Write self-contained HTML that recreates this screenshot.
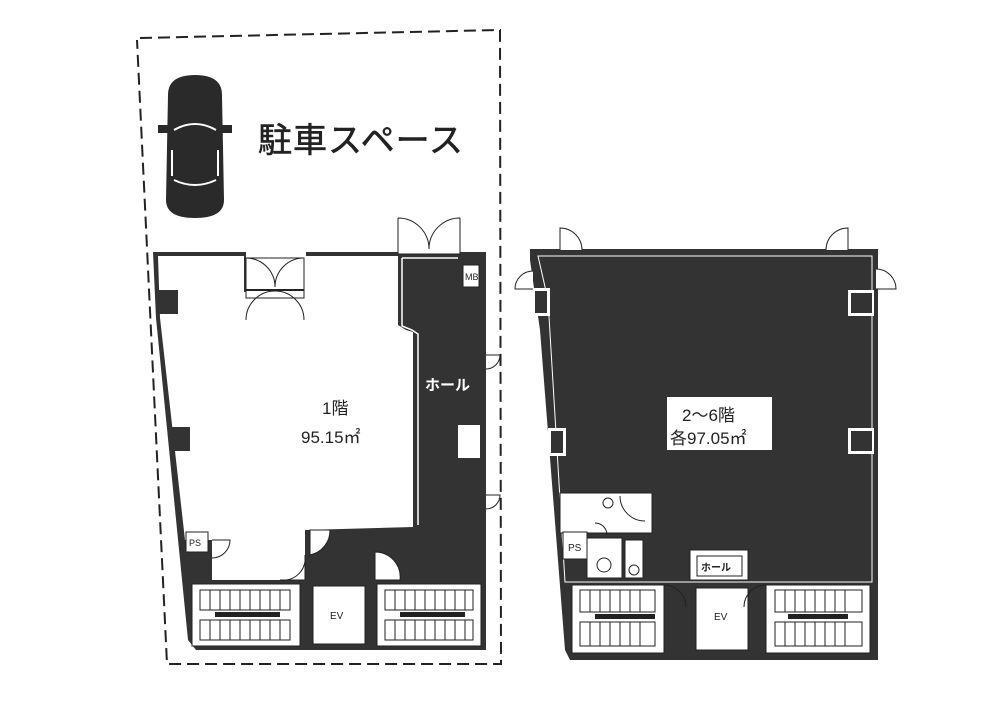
<!DOCTYPE html>
<html><head><meta charset="utf-8"><style>
html,body{margin:0;padding:0;background:#fff;}
svg{display:block}
text{font-family:"Liberation Sans","Noto Sans CJK JP",sans-serif;}
</style></head><body>
<svg width="1000" height="706" viewBox="0 0 1000 706" xmlns="http://www.w3.org/2000/svg">
<rect width="1000" height="706" fill="#fff"/>
<path d="M140,38 L500,30 L501,664 L167,664 L137,40" fill="none" stroke="#222" stroke-width="2" stroke-dasharray="12,6"/>
<g fill="#2a2a2a">
<path d="M168,95 Q168,75 195,75 Q222,75 222,95 L224,200 Q224,218 195,218 Q166,218 166,200 Z"/>
<rect x="158" y="125" width="10" height="8"/>
<rect x="222" y="125" width="10" height="8"/>
</g>
<path d="M174,130 Q195,118 216,130 M174,180 Q195,190 216,180 M172,150 L172,176 M218,150 L218,176" stroke="#fff" stroke-width="2" fill="none"/>
<text x="258" y="152" font-size="34" fill="#222" letter-spacing="1" stroke="#222" stroke-width="0.6">駐車スペース</text>

<path d="M153,252 L246,252 L246,258 L306,258 L306,252 L486,252 L486,650 L196,650 L188,640 L156,318 Z" fill="#333"/>
<path d="M158,256 L244,256 L244,292 L304,292 L304,256 L398,256 L398,325 L406,330 L413,332 L413,527 L305,530 L305,580 L212,580 L212,540 L185,540 L160,318 Z" fill="#fff"/>
<rect x="158" y="290" width="20" height="24" fill="#333"/>
<rect x="170" y="427" width="20" height="24" fill="#333"/>
<rect x="246" y="258" width="58" height="40" fill="#fff" stroke="#222"/>
<path d="M246,258 A29,29 0 0 1 275,287 M304,258 A29,29 0 0 0 275,287 M246,320 A29,29 0 0 1 275,291 M304,320 A29,29 0 0 0 275,291" fill="none" stroke="#222"/>
<line x1="246" y1="290" x2="304" y2="290" stroke="#222" stroke-width="2"/>
<rect x="398" y="218" width="62" height="36" fill="#fff"/>
<path d="M398,218 L398,254 L460,254 L460,218 M398,218 A31,31 0 0 1 429,249 M460,218 A31,31 0 0 0 429,249" fill="none" stroke="#222"/>
<path d="M402,258 L458,258 M402,258 L402,326 L412,330 L418,334 L418,525" fill="none" stroke="#fff" stroke-width="1.5"/>
<rect x="463" y="265" width="16" height="22" fill="#fff" stroke="#222"/>
<text x="465" y="280" font-size="9" fill="#222">MB</text>
<text x="425" y="390" font-size="15" font-weight="bold" fill="#fff">ホール</text>
<path d="M458,425 L480,425 L480,458 L458,458 Z" fill="#fff"/>
<path d="M486,355 L500,355 A14,14 0 0 1 486,369 M486,495 L500,495 A14,14 0 0 1 486,509" fill="#fff" stroke="#222"/>
<rect x="186" y="532" width="22" height="20" fill="#fff" stroke="#222"/>
<text x="189" y="546" font-size="9" fill="#222">PS</text>
<path d="M212,540 L230,540 A18,18 0 0 1 212,558" fill="none" stroke="#222"/>
<path d="M310,530 L330,530 A25,25 0 0 1 310,555 Z" fill="#fff" stroke="#222"/>
<path d="M305,580 L305,555 A22,22 0 0 1 280,580 Z" fill="#fff" stroke="#222"/>
<path d="M375,580 L375,552 A25,25 0 0 1 400,580 Z" fill="#fff" stroke="#222"/>
<g fill="#fff" stroke="#222">
<rect x="192" y="584" width="108" height="62"/>
<rect x="313" y="586" width="52" height="58"/>
<rect x="377" y="584" width="104" height="62"/>
</g>
<g stroke="#222" stroke-width="1">
<path d="M200,590 L290,590 L290,610 L200,610 Z M200,620 L290,620 L290,640 L200,640 Z" fill="none"/>
<path d="M210,590V610M220,590V610M230,590V610M240,590V610M250,590V610M260,590V610M270,590V610M280,590V610M210,620V640M220,620V640M230,620V640M240,620V640M250,620V640M260,620V640M270,620V640M280,620V640"/>
<path d="M385,590 L473,590 L473,610 L385,610 Z M385,620 L473,620 L473,640 L385,640 Z" fill="none"/>
<path d="M395,590V610M405,590V610M415,590V610M425,590V610M435,590V610M445,590V610M455,590V610M465,590V610M395,620V640M405,620V640M415,620V640M425,620V640M435,620V640M445,620V640M455,620V640M465,620V640"/>
</g>
<rect x="215" y="612" width="65" height="5" fill="#222"/>
<rect x="400" y="612" width="65" height="5" fill="#222"/>
<text x="330" y="619" font-size="10" fill="#222">EV</text>
<text x="322" y="414" font-size="17" fill="#222">1階</text>
<text x="301" y="443" font-size="17" fill="#222">95.15㎡</text>

<path d="M530,249 L878,249 L878,660 L570,660 L565,650 L540,330 L530,260 Z" fill="#333"/>
<path d="M538,256 L872,256 L872,582 L565,582 L548,300 Z" fill="none" stroke="#fff" stroke-width="1"/>
<g fill="#fff">
<rect x="532" y="288" width="18" height="28"/>
<rect x="548" y="428" width="18" height="28"/>
<rect x="848" y="290" width="26" height="26"/>
<rect x="848" y="428" width="26" height="26"/>
</g>
<g fill="#333"><rect x="535" y="291" width="12" height="22"/><rect x="551" y="431" width="12" height="22"/><rect x="851" y="293" width="21" height="20"/><rect x="851" y="431" width="21" height="20"/></g>
<path d="M560,250 L560,228 A22,22 0 0 1 582,250 M848,250 L848,228 A22,22 0 0 0 826,250 M533,289 L515,289 A18,18 0 0 1 533,271 M876,289 L896,289 A20,20 0 0 0 876,269" fill="#fff" stroke="#222"/>
<rect x="667" y="397" width="105" height="53" fill="#fff"/>
<text x="682" y="421" font-size="17" fill="#222">2～6階</text>
<text x="670" y="444" font-size="17" fill="#222">各97.05㎡</text>
<g fill="#fff" stroke="#222">
<rect x="560" y="493" width="92" height="40"/>
<rect x="563" y="532" width="24" height="27"/>
<rect x="587" y="538" width="35" height="40"/>
<rect x="625" y="540" width="18" height="38"/>
<rect x="690" y="550" width="58" height="30"/>
<rect x="697" y="556" width="45" height="20"/>
</g>
<text x="568" y="551" font-size="10" fill="#222">PS</text>
<text x="701" y="571" font-size="10" font-weight="bold" fill="#222">ホール</text>
<path d="M620,496 A25,25 0 0 0 645,521 M595,523 A12,12 0 0 1 607,535" fill="none" stroke="#222"/>
<circle cx="608" cy="503" r="5" fill="none" stroke="#222"/>
<circle cx="604" cy="565" r="7" fill="none" stroke="#222"/>
<circle cx="634" cy="570" r="5" fill="none" stroke="#222"/>
<g fill="#fff" stroke="#222">
<rect x="572" y="585" width="92" height="68"/>
<rect x="696" y="588" width="52" height="62"/>
<rect x="766" y="585" width="104" height="68"/>
</g>
<g stroke="#222" stroke-width="1" fill="none">
<path d="M580,590 L655,590 L655,612 L580,612 Z M580,622 L655,622 L655,646 L580,646 Z"/>
<path d="M590,590V612M600,590V612M610,590V612M620,590V612M630,590V612M640,590V612M590,622V646M600,622V646M610,622V646M620,622V646M630,622V646M640,622V646"/>
<path d="M775,590 L862,590 L862,612 L775,612 Z M775,622 L862,622 L862,646 L775,646 Z"/>
<path d="M785,590V612M795,590V612M805,590V612M815,590V612M825,590V612M835,590V612M845,590V612M785,622V646M795,622V646M805,622V646M815,622V646M825,622V646M835,622V646M845,622V646"/>
<path d="M664,585 A22,22 0 0 1 686,607 M766,585 A22,22 0 0 0 744,607"/>
</g>
<rect x="595" y="614" width="60" height="5" fill="#222"/>
<rect x="788" y="614" width="60" height="5" fill="#222"/>
<text x="714" y="620" font-size="10" fill="#222">EV</text>
</svg>
</body></html>
